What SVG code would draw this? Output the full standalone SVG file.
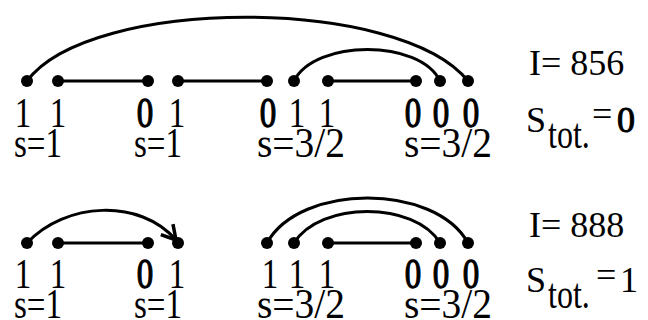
<svg xmlns="http://www.w3.org/2000/svg" width="648" height="320" viewBox="0 0 648 320">
<defs>
<style>
.dot{fill:#000}
.ln{stroke:#000;stroke-width:3;fill:none}
.arc{stroke:#000;stroke-width:3;fill:none}
text{font-family:"Liberation Serif","Times New Roman",serif;fill:#000}
.d{font-size:33px;text-anchor:middle}
.z{stroke:#000;stroke-width:1}
.s{font-size:33px;text-anchor:middle}
.r{font-size:36px}
.t{font-size:32px}
</style>
<marker id="arr" viewBox="0 0 20 20" refX="16" refY="10" markerWidth="20" markerHeight="20" markerUnits="userSpaceOnUse" orient="auto">
<path d="M2,2 L16,10 L2,18" stroke="#000" stroke-width="3.5" fill="none"/>
</marker>
</defs>
<g id="connectors">
<path class="ln" d="M58,81 H148"/>
<path class="ln" d="M178,81 H267"/>
<path class="ln" d="M328,81 H416"/>
<path class="arc" d="M27,81 C90,-4 400,-4 468,81"/>
<path class="arc" d="M294,81 C315,39 420,39 440,81"/>
<path class="ln" d="M58,243 H148"/>
<path class="ln" d="M328,243 H416"/>
<path class="arc" d="M27,243 C65,202 140,198 176,240" marker-end="url(#arr)"/>
<path class="arc" d="M267,243 C300,183 435,183 468,243"/>
<path class="arc" d="M294,243 C320,201 415,201 440,243"/>
</g>
<g id="top-row">
<circle class="dot" cx="27" cy="81" r="6"/>
<circle class="dot" cx="58" cy="81" r="6"/>
<circle class="dot" cx="148" cy="81" r="6"/>
<circle class="dot" cx="178" cy="81" r="6"/>
<circle class="dot" cx="267" cy="81" r="6"/>
<circle class="dot" cx="294" cy="81" r="6"/>
<circle class="dot" cx="328" cy="81" r="6"/>
<circle class="dot" cx="416" cy="81" r="6"/>
<circle class="dot" cx="440" cy="81" r="6"/>
<circle class="dot" cx="468" cy="81" r="6"/>
<g transform="translate(0,127) scale(1,1.25)">
<text class="d" x="23" y="0">1</text>
<text class="d" x="58" y="0">1</text>
<text class="d z" x="145" y="0">0</text>
<text class="d" x="177" y="0">1</text>
<text class="d z" x="268" y="0">0</text>
<text class="d" x="297" y="0">1</text>
<text class="d" x="327" y="0">1</text>
<text class="d z" x="413" y="0">0</text>
<text class="d z" x="441" y="0">0</text>
<text class="d z" x="471" y="0">0</text>
</g>
<g transform="translate(0,157) scale(1,1.25)">
<text class="s" x="38" y="0">s=1</text>
<text class="s" x="158" y="0">s=1</text>
<text class="s" x="301" y="0" textLength="88" lengthAdjust="spacingAndGlyphs">s=3/2</text>
<text class="s" x="448" y="0" textLength="88" lengthAdjust="spacingAndGlyphs">s=3/2</text>
</g>
<text class="r" x="529" y="75">I= 856</text>
<text class="r" x="526" y="132">S</text>
<text class="t" transform="translate(548,148) scale(1,1.3)" x="0" y="0">tot.</text>
<text class="r" x="592" y="126">=</text>
<text class="r z" x="617" y="132">0</text>
</g>
<g id="bottom-row">
<circle class="dot" cx="27" cy="243" r="6"/>
<circle class="dot" cx="58" cy="243" r="6"/>
<circle class="dot" cx="148" cy="243" r="6"/>
<circle class="dot" cx="178" cy="243" r="6"/>
<circle class="dot" cx="267" cy="243" r="6"/>
<circle class="dot" cx="294" cy="243" r="6"/>
<circle class="dot" cx="328" cy="243" r="6"/>
<circle class="dot" cx="416" cy="243" r="6"/>
<circle class="dot" cx="440" cy="243" r="6"/>
<circle class="dot" cx="468" cy="243" r="6"/>
<g transform="translate(0,288) scale(1,1.25)">
<text class="d" x="23" y="0">1</text>
<text class="d" x="58" y="0">1</text>
<text class="d z" x="145" y="0">0</text>
<text class="d" x="177" y="0">1</text>
<text class="d" x="270" y="0">1</text>
<text class="d" x="297" y="0">1</text>
<text class="d" x="327" y="0">1</text>
<text class="d z" x="413" y="0">0</text>
<text class="d z" x="441" y="0">0</text>
<text class="d z" x="471" y="0">0</text>
</g>
<g transform="translate(0,318) scale(1,1.25)">
<text class="s" x="38" y="0">s=1</text>
<text class="s" x="158" y="0">s=1</text>
<text class="s" x="301" y="0" textLength="88" lengthAdjust="spacingAndGlyphs">s=3/2</text>
<text class="s" x="448" y="0" textLength="88" lengthAdjust="spacingAndGlyphs">s=3/2</text>
</g>
<text class="r" x="529" y="237">I= 888</text>
<text class="r" x="526" y="292">S</text>
<text class="t" transform="translate(548,308) scale(1,1.3)" x="0" y="0">tot.</text>
<text class="r" x="596" y="287">=</text>
<text class="r" x="620" y="292">1</text>
</g>
</svg>
